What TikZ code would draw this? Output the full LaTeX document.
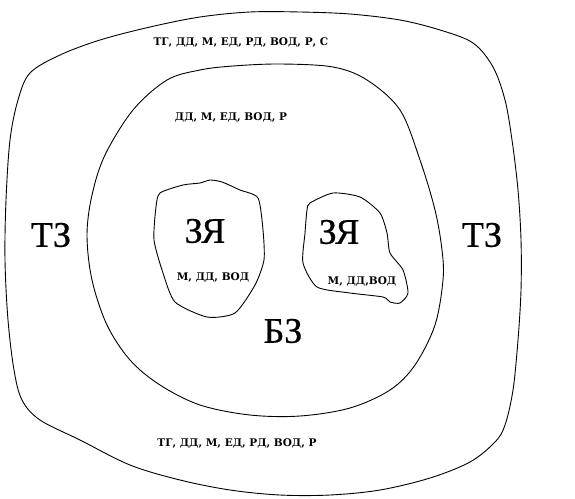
\documentclass[tikz,border=0pt]{standalone}
\usepackage{fontspec}
\setmainfont{DejaVu Serif}
\newfontfamily\slabfont{DejaVu Serif}
\newfontfamily\bigfont[FakeBold=0.6]{Liberation Serif}
\begin{document}
\begin{tikzpicture}[x=1pt,y=-1pt,
  zone/.style={draw=black,line width=0.9pt,line join=round},
  bigl/.style={font=\bigfont\fontsize{36}{36}\selectfont,inner sep=0pt},
  smalll/.style={font=\slabfont\bfseries\fontsize{10.5}{10.5}\selectfont,inner sep=0pt}]
\useasboundingbox (0,0) rectangle (575,498);
% outer zone
\draw[zone] plot[smooth cycle,tension=0.55] coordinates {
 (30,73) (60,55) (100,40) (150,27) (200,17) (250,12) (300,12) (350,14) (400,20) (440,30) (473,43) (493,67) (505,100) (512,140) (518,190) (521,240) (521,290) (518,340) (513,390) (505,425) (495,442) (470,462) (430,478) (380,490) (330,495) (280,495) (230,490) (180,480) (130,465) (80,440) (40,420) (22,400) (14,370) (8,320) (5,260) (6,200) (10,140) (18,100)};
% middle zone
\draw[zone] plot[smooth cycle,tension=0.55] coordinates {
 (133,110) (167,80) (200,70) (233,66) (280,64) (333,67) (367,80) (400,110) (420,160) (435,210) (442,250) (443,280) (435,325) (415,365) (390,390) (350,408) (300,416) (250,415) (200,405) (160,385) (130,360) (107,325) (92,280) (87,235) (92,195) (105,155)};
% left core
\draw[zone] plot[smooth cycle,tension=0.4] coordinates {
 (160,193) (183,185) (200,183) (210,180) (222,182) (240,190) (258,198) (263,230) (264,260) (255,285) (235,313) (207,317) (175,302) (163,273) (154,240) (156,207)};
% right core
\draw[zone] plot[smooth cycle,tension=0.4] coordinates {
 (310,203) (333,193) (360,197) (380,213) (387,233) (390,253) (403,270) (408,293) (400,303) (390,302) (383,297) (350,293) (317,287) (303,263) (305,233) (307,210)};
% labels
\node[bigl] (tzl) at (51,235) {ТЗ};
\node[bigl] (tzr) at (482,235) {ТЗ};
\node[bigl] (zyl) at (205,231) {ЗЯ};
\node[bigl] (zyr) at (339,232) {ЗЯ};
\node[bigl] (bz) at (283,331) {БЗ};
\node[smalll] (sl) at (213,277) {М, ДД, ВОД};
\node[smalll] (sr) at (362,281) {М, ДД,ВОД};
\node[smalll] (top) at (241,42) {ТГ, ДД, М, ЕД, РД, ВОД, Р, С};
\node[smalll] (mid) at (231,117) {ДД, М, ЕД, ВОД, Р};
\node[smalll] (bot) at (237,443) {ТГ, ДД, М, ЕД, РД, ВОД, Р};
\end{tikzpicture}
\end{document}
